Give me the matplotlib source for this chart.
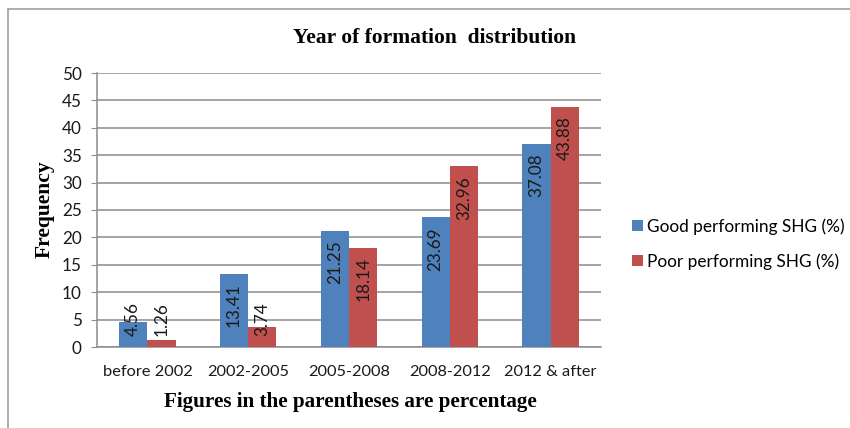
import matplotlib
matplotlib.use("Agg")
import matplotlib.pyplot as plt
import numpy as np
from matplotlib.lines import Line2D

categories = ["before 2002", "2002-2005", "2005-2008", "2008-2012", "2012 & after"]
good = [4.56, 13.41, 21.25, 23.69, 37.08]
poor = [1.26, 3.74, 18.14, 32.96, 43.88]
series_names = ["Good performing SHG (%)", "Poor performing SHG (%)"]
yticks = [0, 5, 10, 15, 20, 25, 30, 35, 40, 45, 50]

SANS = ["Lato", "DejaVu Sans"]
SERIF = ["Liberation Serif", "DejaVu Serif"]
BLUE = "#4F81BD"
RED = "#C0504D"
GRID = "#8c8c8c"
TXT = "#1a1a1a"

fig = plt.figure(figsize=(8.5, 4.28), dpi=100)
W, H = 850, 428
ax = fig.add_axes([97 / W, 1 - 347 / H, (601 - 97) / W, (347 - 73) / H])

x = np.arange(len(categories))
bw = 0.28
b1 = ax.bar(x - bw / 2, good, bw, color=BLUE, label=series_names[0], zorder=3)
b2 = ax.bar(x + bw / 2, poor, bw, color=RED, label=series_names[1], zorder=3)

ax.set_xlim(-0.5, len(categories) - 0.5)
ax.set_ylim(0, 50)
ax.set_yticks(yticks)
ax.set_xticks(x)
ax.set_xticklabels(categories, fontsize=11.8, family=SANS, color=TXT)
ax.set_yticklabels([str(t) for t in yticks], fontsize=12.3, family=SANS, color=TXT)
ax.yaxis.grid(True, color=GRID, linewidth=1.1, zorder=0)
ax.set_axisbelow(True)
for s in ["top", "right"]:
    ax.spines[s].set_visible(False)
ax.spines["left"].set_color(GRID)
ax.spines["bottom"].set_color(GRID)
ax.spines["left"].set_linewidth(1.1)
ax.spines["bottom"].set_linewidth(1.1)
ax.tick_params(axis="y", length=4, color=GRID, pad=7)
ax.tick_params(axis="x", length=0, pad=13)

for bars, vals in [(b1, good), (b2, poor)]:
    for rect, v in zip(bars, vals):
        cx = rect.get_x() + rect.get_width() / 2
        if v < 10:
            ax.annotate(f"{v:.2f}", (cx, 0), xytext=(0, 8), textcoords="offset points",
                        rotation=90, ha="center", va="bottom", fontsize=12.3,
                        family=SANS, color=TXT, zorder=4)
        else:
            ax.annotate(f"{v:.2f}", (cx, v), xytext=(0, -7), textcoords="offset points",
                        rotation=90, ha="center", va="top", fontsize=12.3,
                        family=SANS, color=TXT, zorder=4)

fig.text(435 / W, 1 - 38 / H, "Year of formation  distribution", ha="center", va="center",
         fontsize=15.5, fontweight="bold", family=SERIF)
fig.text(45 / W, 1 - 209 / H, "Frequency", ha="center", va="center", rotation=90,
         fontsize=15.5, fontweight="bold", family=SERIF)
fig.text(350 / W, 1 - 402 / H, "Figures in the parentheses are percentage", ha="center",
         va="center", fontsize=15.2, fontweight="bold", family=SERIF)

leg = fig.legend(handles=[b1, b2], loc="center left", bbox_to_anchor=(625 / W, 1 - 244 / H),
                 frameon=False, prop={"family": SANS, "size": 12.4}, borderaxespad=0,
                 handlelength=0.62, handleheight=0.62, handletextpad=0.25, labelspacing=1.05)

fig.add_artist(Line2D([8 / W, 1], [1 - 9 / H, 1 - 9 / H], transform=fig.transFigure,
                      color="#a0a0a0", linewidth=1.2))
fig.add_artist(Line2D([8 / W, 8 / W], [0, 1 - 9 / H], transform=fig.transFigure,
                      color="#a0a0a0", linewidth=1.2))

fig.savefig("out.png", dpi=100)
